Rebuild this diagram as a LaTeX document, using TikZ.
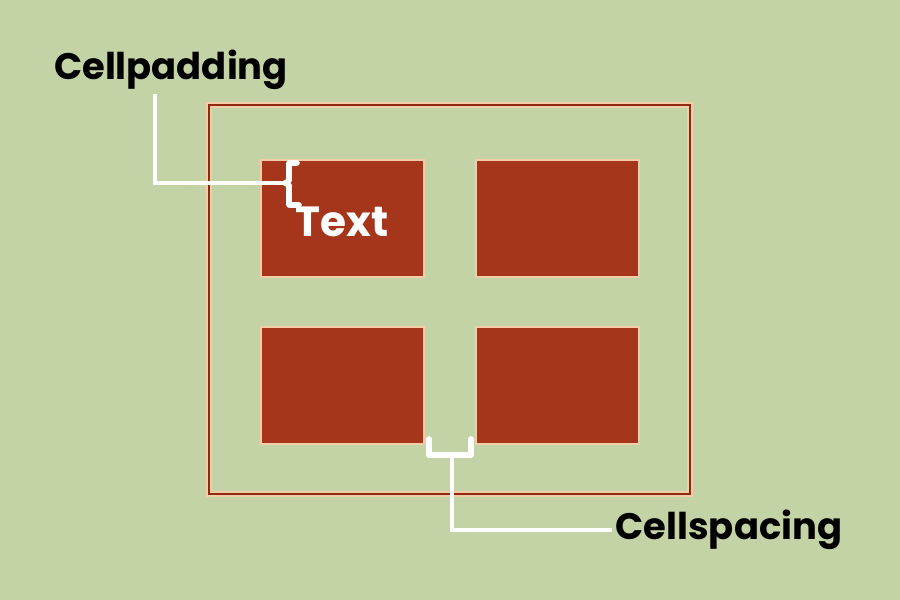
\documentclass[tikz,border=0pt]{standalone}
\usepackage{fontspec}
\setmainfont{Poppins}
\definecolor{sage}{HTML}{C3D3A6}
\definecolor{cellred}{HTML}{A5351B}
\definecolor{framered}{HTML}{8E2A12}
\definecolor{halo}{HTML}{F2CDA8}

\begin{document}
\begin{tikzpicture}[
  cell/.style   ={fill=cellred, draw=halo, line width=0.8pt,
                  minimum width=1.63cm, minimum height=1.17cm, inner sep=0pt},
  frame/.style  ={draw=halo, line width=0.4pt, double=framered,
                  double distance=0.7pt, minimum width=4.81cm,
                  minimum height=3.89cm, inner sep=0pt},
  tag/.style    ={font=\fontsize{10.5}{12}\selectfont\bfseries,
                  text=black, inner sep=1pt},
  lead/.style   ={draw=white, line width=1.2pt},
  brace/.style  ={draw=white, line width=1.6pt, line join=round, line cap=round}
]
  \fill[sage] (0,0) rectangle (9,6);
  \useasboundingbox (0,0) rectangle (9,6);

  % table and its four cells
  \node[frame] (tab) at (4.495,3.005) {};
  \node[cell]  (c11) at (3.425,3.815) {};
  \node[cell]  (c12) at (5.575,3.815) {};
  \node[cell]  (c21) at (3.425,2.145) {};
  \node[cell]  (c22) at (5.575,2.145) {};
  \node[font=\fontsize{12}{14}\selectfont\bfseries, text=white]
       (txt) at (3.42,3.78) {Text};

  % labels
  \node[tag] (lblpad)   at (1.71,5.30) {Cellpadding};
  \node[tag] (lblspace) at (7.29,0.70) {Cellspacing};

  % padding bracket
  \coordinate (padtick) at (2.85,4.17);
  \draw[brace] (2.97,4.37) -- (2.89,4.37) -- (2.89,4.19) -- (padtick)
               -- (2.89,4.15) -- (2.89,3.95) -- (2.99,3.95);
  \draw[lead] ([xshift=-1.6mm]lblpad.south) |- (padtick);

  % spacing bracket
  \coordinate (sptick) at (4.52,1.45);
  \draw[brace] (4.29,1.61) -- (4.29,1.45) -- (4.71,1.45) -- (4.71,1.61);
  \draw[lead] (sptick) |- (lblspace.west);
\end{tikzpicture}
\end{document}
